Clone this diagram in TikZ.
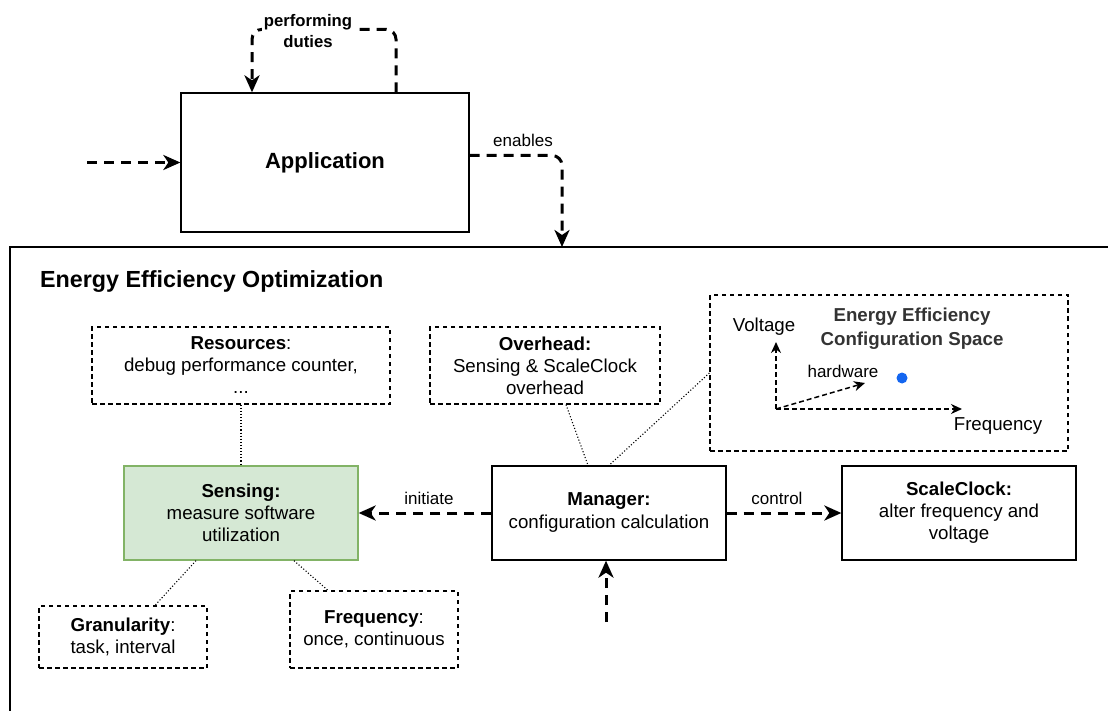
\documentclass[tikz,border=0pt]{standalone}
\usepackage{fontspec}
\setmainfont{Liberation Sans}
\usetikzlibrary{arrows.meta,calc}
\definecolor{sensfill}{HTML}{D5E8D4}
\definecolor{sensdraw}{HTML}{82B366}
\definecolor{dotblue}{HTML}{1466F0}
\definecolor{cfgtext}{HTML}{333333}
\begin{document}
\begin{tikzpicture}[x=1pt,y=-1pt,
  box/.style={draw=black, line width=1.3pt, fill=white, align=center, inner sep=0pt, font=\fontsize{18.7}{22}\selectfont},
  dbox/.style={draw=black, line width=1.2pt, dash pattern=on 4.5pt off 3.5pt, align=center, inner sep=0pt, font=\fontsize{18.7}{22}\selectfont},
  flow/.style={line width=3pt, dash pattern=on 10pt off 7pt, -{Stealth[length=17pt,width=15pt,inset=5pt]}},
  axis/.style={line width=1.5pt, dash pattern=on 5pt off 3pt, -{Stealth[length=11pt,width=10pt,inset=3.5pt]}},
  link/.style={line width=1.1pt, dash pattern=on 1.1pt off 2pt},
  lbl/.style={font=\fontsize{17}{19}\selectfont, inner sep=1pt},
  plain/.style={font=\fontsize{18.7}{22}\selectfont, inner sep=0pt},
]
\useasboundingbox (0,0) rectangle (1108,711);
\clip (0,0) rectangle (1108,711);

% outer frame
\draw[line width=1.3pt] (10,730) -- (10,247) -- (1130,247);
\node[anchor=west, font=\fontsize{23.3}{26}\selectfont\bfseries, inner sep=0pt] (title) at (40,282) {Energy Efficiency Optimization};

% Application
\node[box, minimum width=288pt, minimum height=139pt, font=\fontsize{22}{26}\selectfont\bfseries] (app) at (325,162.5) {Application};
\coordinate (in) at (87,162.5);
\draw[flow] (in) -- (app.west);
\draw[flow, rounded corners=10pt] ([xshift=71pt]app.north) -- ++(0,-63) -| ([xshift=-73pt]app.north);
\node[lbl, font=\fontsize{16.7}{21}\selectfont\bfseries, fill=white, align=center, inner sep=2pt] (pd) at (308,31) {performing\\duties};
\coordinate (enab) at (562,247);
\draw[flow, rounded corners=10pt] ([yshift=7pt]app.east) -| (enab);
\node[lbl] (enl) at (523,140) {enables};

% Dashed info boxes
\node[dbox, minimum width=298pt, minimum height=77pt] (res) at (241,365.5) {\textbf{Resources}:\\debug performance counter,\\...};
\node[dbox, minimum width=230pt, minimum height=77pt] (over) at (545,365.5) {\textbf{Overhead:}\\Sensing \& ScaleClock\\overhead};
\node[dbox, minimum width=358pt, minimum height=156pt] (cfg) at (889,373) {};
\node[dbox, minimum width=168pt, minimum height=62pt] (gran) at (123,637) {\textbf{Granularity}:\\task, interval};
\node[dbox, minimum width=168pt, minimum height=77pt] (freq) at (374,629.5) {\textbf{Frequency}:\\once, continuous};

% Configuration space contents
\node[plain, font=\fontsize{18.7}{24}\selectfont\bfseries, text=cfgtext, align=center] (cfgt) at (912,329) {Energy Efficiency\\Configuration Space};
\node[plain] (volt) at (764,327) {Voltage};
\node[plain] (fql) at (998,426) {Frequency};
\node[lbl] (hw) at (843,371) {hardware};
\coordinate (o) at (776,409);
\coordinate (vt) at (776,342);
\coordinate (ft) at (962,409);
\coordinate (ht) at (865,383);
\draw[axis] (o) -- (vt);
\draw[axis] (o) -- (ft);
\draw[axis] (o) -- (ht);
\node[circle, fill=dotblue, minimum size=11pt, inner sep=0pt] (dot) at (902,378) {};

% Main boxes
\node[box, fill=sensfill, draw=sensdraw, minimum width=234pt, minimum height=94pt] (sen) at (241,513) {\textbf{Sensing:}\\measure software\\utilization};
\node[box, minimum width=234pt, minimum height=94pt] (man) at (609,513) {\textbf{Manager:}\\[1pt]configuration calculation};
\node[box, minimum width=234pt, minimum height=94pt] (sc) at (959,513) {\textbf{ScaleClock:}\\alter frequency and\\voltage};

% Arrows
\draw[flow] (man.west) -- (sen.east);
\node[lbl] (ini) at (429,498) {initiate};
\draw[flow] (man.east) -- (sc.west);
\node[lbl] (ctl) at (777,498) {control};
\coordinate (bot) at (606,622);
\draw[flow] (bot) -- (bot |- man.south);

% Dotted links
\draw[link] (res.south) -- (sen.north);
\draw[link] ([xshift=-45pt]sen.south) -- ([xshift=32pt]gran.north);
\draw[link] ([xshift=53pt]sen.south) -- ([xshift=-46pt]freq.north);
\draw[link] ([xshift=21pt]over.south) -- ([xshift=-21pt]man.north);
\draw[link] (cfg.west) -- (man.north);
\end{tikzpicture}
\end{document}
